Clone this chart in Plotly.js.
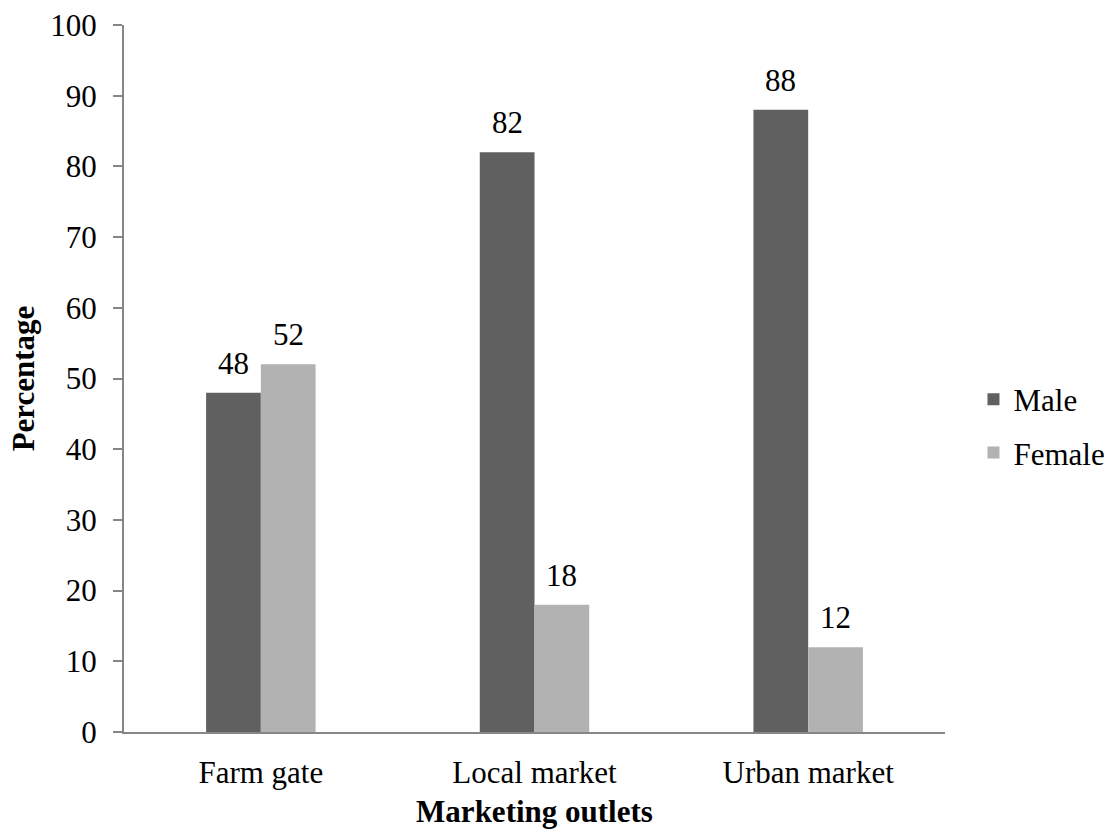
<!DOCTYPE html>
<html>
<head>
<meta charset="utf-8">
<script src="https://cdn.plot.ly/plotly-3.0.1.min.js"></script>
<style>html,body{margin:0;padding:0;background:#fff;}#chart{width:1110px;height:829px;}</style>
</head>
<body>
<div id="chart"></div>
<script>
const categories = ["Farm gate", "Local market", "Urban market"];
const maleValues = [48, 82, 88];
const femaleValues = [52, 18, 12];
const seriesNames = ["Male", "Female"];

const font = "'Liberation Serif', 'Times New Roman', serif";
const fs = 31;

const traces = [
  {
    type: "bar", name: seriesNames[0], x: categories, y: maleValues,
    marker: {color: "#606060"}, legendgroup: "m"
  },
  {
    type: "bar", name: seriesNames[1], x: categories, y: femaleValues,
    marker: {color: "#b2b2b2"}, legendgroup: "f"
  }
];

const barHalf = 27.4;
const annotations = [];
categories.forEach((c, i) => {
  annotations.push({x: c, y: maleValues[i], text: String(maleValues[i]), xref: "x", yref: "y",
    showarrow: false, xanchor: "center", yanchor: "bottom", xshift: -barHalf, yshift: 10,
    font: {family: font, size: fs, color: "#000"}});
  annotations.push({x: c, y: femaleValues[i], text: String(femaleValues[i]), xref: "x", yref: "y",
    showarrow: false, xanchor: "center", yanchor: "bottom", xshift: barHalf, yshift: 10,
    font: {family: font, size: fs, color: "#000"}});
});

const layout = {
  width: 1110, height: 829,
  margin: {l: 124, r: 165, t: 25, b: 97},
  paper_bgcolor: "#fff", plot_bgcolor: "#fff",
  font: {family: font, size: fs, color: "#000"},
  barmode: "group", bargap: 0.6, bargroupgap: 0,
  showlegend: true,
  annotations: annotations,
  legend: {xref: "container", yref: "container", x: 0.877, xanchor: "left", y: 0.486, yanchor: "middle",
           font: {family: font, size: fs, color: "#000"}, tracegroupgap: 10,
           itemwidth: 30},
  xaxis: {
    title: {text: "<b>Marketing outlets</b>", font: {family: font, size: fs}, standoff: 18},
    showline: true, linecolor: "#868686", linewidth: 2,
    ticks: "", showgrid: false, zeroline: false,
    tickfont: {family: font, size: fs}, ticklabelstandoff: 12
  },
  yaxis: {
    title: {text: "<b>Percentage</b>", font: {family: font, size: fs}, standoff: 6},
    range: [0, 100], dtick: 10, tick0: 0,
    showline: true, linecolor: "#868686", linewidth: 2,
    ticks: "outside", ticklen: 9, tickcolor: "#868686", tickwidth: 2,
    showgrid: false, zeroline: false,
    tickfont: {family: font, size: fs}, ticklabelstandoff: 10
  }
};

Plotly.newPlot("chart", traces, layout, {displayModeBar: false, staticPlot: true});
</script>
</body>
</html>
